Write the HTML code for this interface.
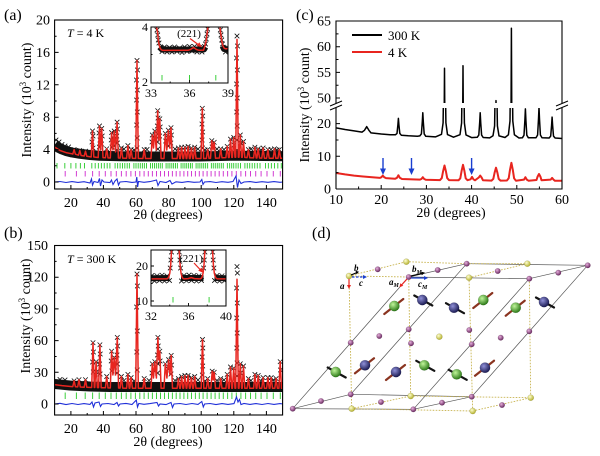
<!DOCTYPE html>
<html><head><meta charset="utf-8"><title>Diffraction figure</title>
<style>
html,body{margin:0;padding:0;background:#fff;width:600px;height:456px;overflow:hidden}
svg{display:block;font-family:"Liberation Serif","DejaVu Serif",serif}
</style></head>
<body>
<svg xmlns="http://www.w3.org/2000/svg" width="600" height="456" viewBox="0 0 600 456">
<defs>
 <clipPath id="ca"><rect x="54.6" y="20" width="228" height="169"/></clipPath>
 <clipPath id="cb"><rect x="54.6" y="245.5" width="228" height="169.5"/></clipPath>
 <clipPath id="cia"><rect x="151" y="27" width="77" height="56"/></clipPath>
 <clipPath id="cib"><rect x="151" y="250" width="75" height="56"/></clipPath>
 <clipPath id="ccl"><rect x="336" y="108" width="226" height="81"/></clipPath>
 <clipPath id="ccu"><rect x="336" y="21" width="226" height="82"/></clipPath>
 <marker id="mx" viewBox="0 0 5 5" refX="2.5" refY="2.5" markerWidth="5" markerHeight="5" markerUnits="userSpaceOnUse" overflow="visible"><path d="M0.2 0.2L4.8 4.8M4.8 0.2L0.2 4.8" stroke="#111" stroke-width="0.8" fill="none"/></marker>
 <radialGradient id="gP" cx="38%" cy="35%" r="65%"><stop offset="0" stop-color="#e6b0dc"/><stop offset="1" stop-color="#6a2860"/></radialGradient>
 <radialGradient id="gY" cx="38%" cy="35%" r="65%"><stop offset="0" stop-color="#ffffd0"/><stop offset="1" stop-color="#b4b02c"/></radialGradient>
 <radialGradient id="gG" cx="38%" cy="35%" r="65%"><stop offset="0" stop-color="#c0f59a"/><stop offset="1" stop-color="#2c7a18"/></radialGradient>
 <radialGradient id="gB" cx="38%" cy="35%" r="65%"><stop offset="0" stop-color="#9090d8"/><stop offset="1" stop-color="#1a1a52"/></radialGradient>
</defs>
<rect width="600" height="456" fill="#fff"/>

<!-- ================= Panel (a) ================= -->
<g clip-path="url(#ca)">
 <path d="M54.6 145L58 147.5L62 149.5L66 151L72 152.5L80 153.8L90 155L100 155.7L120 156.2L140 156.5L200 156.5L230 155.8L245 155.8L283 156.3" fill="none" stroke="#111" stroke-width="10" stroke-linejoin="round"/>
 <path fill="none" stroke="none" marker-start="url(#mx)" marker-mid="url(#mx)" marker-end="url(#mx)" d="M92.5 131L93 136L92 142L93 148L99.5 126L99 133L100 140L99.3 147L101.7 128.5L102.2 136L101.5 144L111.6 132.6L111.2 140L112 147L114.2 131L114.6 139L114 146L117.1 122.1L117.5 129L116.8 136L117.4 143L117 150L137 60.5L137.5 70L136.5 80L137.4 90L136.6 100L137.3 112L136.7 125L137.2 138L137 148L152.3 135L152 142L154.8 131L155.2 139L157.7 110.7L158 118L157.4 126L158 134L157.5 142L157.9 149L159.8 118.8L160.2 127L159.6 136L165.3 133.4L165.7 141L168.3 130.2L168 138L168.5 146L171 127.7L171.4 135L170.8 143L202.3 108.3L202.7 116L202 124L202.6 132L202.1 140L202.5 148L211.8 140.7L212.2 147L214.2 142.3L230.5 139.1L233.7 137.5L234 145L237 36L237.5 46L236.5 58L237.4 70L236.6 84L237.3 98L236.7 112L237.2 126L236.8 140L237 150L240.3 135L240.6 143L243.5 141.5L74.1 149.6L79.8 150.4L85.5 151.2L106.7 148.8L121.4 148L127.9 145.6L131.1 149.6L144.2 149.6L178.4 148L181.6 147.2L184.9 147.2L188.1 146.4L191.4 148L194.7 147.2L207.7 149.6L220.7 148.8L227.2 146.4L248.4 149.6L254.9 147.2L258.2 148.8L263.1 148L267.9 149.6L274.5 148.8L279.3 149.6L60 148L64 149L68 150L124 149L134 150L147 149.5L175 149L198 149L205 150L217 149L224 149.5L251 149L261 150L271 149.5L277 150L56 140L59 142L62 144.5L65 146L68.5 147"/>
 <path fill="none" stroke="#e8251f" stroke-width="1.5" stroke-linejoin="round" d="M54.6 147L60 150.5L66 152.6L72 153.8L72.8 154.1L74.1 149.6L75.4 154.2L78.5 155.2L79.8 150.4L81.1 155.5L84.2 156L85.5 151.2L86.8 156.3L91.2 157L92.5 131L93.8 157L98.2 157.5L99.5 126.1L100.6 150L101.7 128.5L103 157.6L105.4 157.8L106.7 148.8L108 157.9L110.3 158L111.6 132.6L112.9 150L114.2 131L115.5 152L117.1 122.1L118.4 158L120.1 158.1L121.4 148L122.7 158.1L126.6 158.2L127.9 145.6L129.2 158.2L129.8 158.3L131.1 149.6L132.4 158.3L135.7 158.4L137 60.5L138.3 158.4L142.9 158.5L144.2 149.6L145.5 158.5L151 158.5L152.3 135L153.5 148L154.8 131L156.3 150L157.7 110.7L158.8 140L159.8 118.8L161.1 158.5L164 158.5L165.3 133.4L166.8 150L168.3 130.2L169.6 148L171 127.7L172.3 158.5L177.1 158.5L178.4 148L179.7 158.5L180.3 158.5L181.6 147.2L182.9 158.5L183.6 158.5L184.9 147.2L186.2 158.5L186.8 158.5L188.1 146.4L189.4 158.5L190.1 158.5L191.4 148L192.7 158.5L193.4 158.5L194.7 147.2L196 158.5L201 158.5L202.3 108.3L203.6 158.5L206.4 158.4L207.7 149.6L209 158.4L210.5 158.3L211.8 140.7L213 150L214.2 142.3L215.5 158.2L219.4 158L220.7 148.8L222 157.8L225.9 157.6L227.2 146.4L228.5 157.5L229.2 157.5L230.5 139.1L231.8 157.4L232.4 157.4L233.7 137.5L235 157.3L235.7 157.3L237 39.4L238.3 157.3L239 157.3L240.3 135L241.6 157.3L242.2 157.4L243.5 141.5L244.8 157.4L247.1 157.6L248.4 149.6L249.7 157.7L253.6 157.9L254.9 147.2L256.2 158L256.9 158L258.2 148.8L259.5 158L261.8 158.1L263.1 148L264.4 158.2L266.6 158.2L267.9 149.6L269.2 158.2L273.2 158.3L274.5 148.8L275.8 158.3L278 158.3L279.3 149.6L280.6 158.3L283 158.3"/>
 <path stroke="#3ccf3c" stroke-width="1" d="M57 163v5.5M64.8 163v5.5M70.9 163v5.5M75.9 163v5.5M80.4 163v5.5M84.5 163v5.5M91.8 163v5.5M95.2 163v5.5M98.4 163v5.5M101.4 163v5.5M104.3 163v5.5M107.2 163v5.5M109.9 163v5.5M115.1 163v5.5M117.6 163v5.5M120.1 163v5.5M122.5 163v5.5M124.8 163v5.5M127.2 163v5.5M129.4 163v5.5M133.9 163v5.5M136 163v5.5M138.2 163v5.5M140.3 163v5.5M142.4 163v5.5M144.4 163v5.5M146.5 163v5.5M150.5 163v5.5M152.5 163v5.5M154.5 163v5.5M156.4 163v5.5M158.4 163v5.5M160.3 163v5.5M162.3 163v5.5M166.1 163v5.5M168 163v5.5M169.9 163v5.5M171.8 163v5.5M173.6 163v5.5M175.5 163v5.5M177.4 163v5.5M181.1 163v5.5M183 163v5.5M184.9 163v5.5M186.7 163v5.5M188.6 163v5.5M190.5 163v5.5M192.3 163v5.5M196.1 163v5.5M198 163v5.5M199.9 163v5.5M201.8 163v5.5M203.7 163v5.5M205.6 163v5.5M207.6 163v5.5M211.4 163v5.5M213.3 163v5.5M215.3 163v5.5M217.3 163v5.5M219.2 163v5.5M221.3 163v5.5M223.3 163v5.5M227.4 163v5.5M229.6 163v5.5M231.7 163v5.5M233.7 163v5.5M236 163v5.5M238.2 163v5.5M240.5 163v5.5M244.9 163v5.5M247.3 163v5.5M249.7 163v5.5M252.2 163v5.5M254.7 163v5.5M257.3 163v5.5M260 163v5.5M265.5 163v5.5M268.4 163v5.5M271.4 163v5.5M274.5 163v5.5M277.8 163v5.5M281.3 163v5.5"/>
 <path stroke="#d23cd2" stroke-width="1" d="M65.2 171v5.5M76.4 171v5.5M85.2 171v5.5M92.6 171v5.5M99.2 171v5.5M105.3 171v5.5M111 171v5.5M116.3 171v5.5M121.4 171v5.5M126.2 171v5.5M130.9 171v5.5M135.4 171v5.5M139.8 171v5.5M144.1 171v5.5M148.3 171v5.5M152.4 171v5.5M156.5 171v5.5M160.5 171v5.5M164.5 171v5.5M168.5 171v5.5M172.4 171v5.5M176.2 171v5.5M180 171v5.5M183.9 171v5.5M187.7 171v5.5M191.5 171v5.5M195.4 171v5.5M199.3 171v5.5M203.1 171v5.5M207.1 171v5.5M211.1 171v5.5M215.1 171v5.5M219.2 171v5.5M223.3 171v5.5M227.6 171v5.5M231.9 171v5.5M236.3 171v5.5M240.9 171v5.5M245.6 171v5.5M250.5 171v5.5M255.7 171v5.5M261.1 171v5.5M267 171v5.5M273.3 171v5.5M280.3 171v5.5"/>
 <path fill="none" stroke="#1f2fd8" stroke-width="1.1" d="M54.6 182L60 181.5L66 182.5L72 181.6L78 182.4L84 181.7L90 183L91.5 179L92.5 185L94 181.5L98 182.5L99.5 178.5L100.5 186L102 180L104 182L110 182.5L111.5 180L113 184.5L115 181L117 179L118.5 185L120 182L126 181.5L132 182.4L136 182L136.8 177L137.6 187L138.5 181.5L144 182.3L150 181.6L156.5 180L158 185.5L160 181.5L166 182.5L170 180.5L172 184L176 181.8L182 182.4L188 181.6L194 182.3L200 182L201.8 179.5L203 184.5L204.5 182L210 181.6L216 182.5L222 181.7L228 182.3L233 181.5L236 176L237.5 187.5L239 180L241 183.5L244 182L250 181.6L256 182.4L262 181.7L268 182.3L274 181.6L280 182.3L283 182"/>
</g>
<path fill="none" stroke="#000" stroke-width="1" d="M70.9 189v-4M103.4 189v-4M136 189v-4M168.6 189v-4M201.2 189v-4M233.8 189v-4M266.4 189v-4M87.2 189v-2M119.7 189v-2M152.3 189v-2M184.9 189v-2M217.5 189v-2M250 189v-2M54.6 182h4M54.6 149.6h4M54.6 117.2h4M54.6 84.8h4M54.6 52.4h4M54.6 165.8h2M54.6 133.4h2M54.6 101h2M54.6 68.6h2M54.6 36.2h2"/>
<rect x="54.6" y="20" width="228" height="169" fill="none" stroke="#000" stroke-width="1.1"/>
<!-- inset a -->
<rect x="151" y="27" width="77" height="56" fill="#fff"/>
<g clip-path="url(#cia)">
 <path d="M159.5 47L162 49.5L204 49.5L205.5 47M222.5 46L224 49L229 49.5" fill="none" stroke="#111" stroke-width="6" stroke-linejoin="round"/>
 <path fill="none" stroke="none" marker-start="url(#mx)" marker-mid="url(#mx)" marker-end="url(#mx)" d="M159 43L160.5 47L162 51.5L164.5 47L167 52L169.5 47.5L172 52L174.5 47L177 51.5L179.5 48L182 52.5L184.5 47L187 51.5L189.5 46.5L192 51L194.5 46.5L197 52L199.5 47.5L202 52L204.5 46.5L157 30L157.7 35L158.3 40L205.5 44L206.3 39L207 34L207.6 29L220.3 30L221 35L221.7 40L222.5 44L224 48L225.5 52L227 47.5L228.5 51"/>
 <path fill="none" stroke="#e8251f" stroke-width="1.5" stroke-linejoin="round" d="M152.5 20L155.5 20L156.5 27L157.4 31.4L158.7 42.9L160 47.9L161.3 49.8L163 50.4L188 50.3L190.5 49.5L193.6 47.5L196.5 49.5L199 50.3L203.6 50.1L204.9 46L206.2 40.4L207.5 30.3L208.4 20M219.4 20L220.3 30.3L221.6 40.4L222.9 45.8L224.2 48.2L225.5 48.8L226.8 48.7L228.2 48.3L229 48"/>
 <path stroke="#3ccf3c" stroke-width="1" d="M162 75v5.5M189.5 75v5.5M215.8 75v5.5"/>
</g>
<path fill="none" stroke="#000" stroke-width="0.9" d="M189.5 83v-3M170.2 83v-1.5M208.7 83v-1.5M151 54.5h1.5"/>
<rect x="151" y="27" width="77" height="56" fill="none" stroke="#000" stroke-width="1"/>
<path d="M190 38.5L199.5 45.5" stroke="#e8251f" stroke-width="1.2"/>
<path d="M202 47.3L196.5 45.9L199.3 42.2Z" fill="#e8251f"/>
<text x="189" y="37" font-size="11" text-anchor="middle">(221)</text>
<g font-size="12">
 <text x="148" y="31" text-anchor="end">4</text>
 <text x="148" y="86" text-anchor="end">2</text>
 <text x="151" y="97" text-anchor="middle">33</text>
 <text x="189.5" y="97" text-anchor="middle">36</text>
 <text x="228" y="97" text-anchor="middle">39</text>
</g>
<text x="67" y="37" font-size="12"><tspan font-style="italic">T</tspan> = 4 K</text>
<text x="4" y="20" font-size="16">(a)</text>
<g font-size="14" text-anchor="end">
 <text x="50" y="186.5">0</text>
 <text x="50" y="154.1">4</text>
 <text x="50" y="121.7">8</text>
 <text x="50" y="89.3">12</text>
 <text x="50" y="56.9">16</text>
 <text x="50" y="24.5">20</text>
</g>
<g font-size="14" text-anchor="middle">
 <text x="70.9" y="207">20</text>
 <text x="103.4" y="207">40</text>
 <text x="136" y="207">60</text>
 <text x="168.6" y="207">80</text>
 <text x="201.2" y="207">100</text>
 <text x="233.8" y="207">120</text>
 <text x="266.4" y="207">140</text>
 <text x="168" y="219">2θ (degrees)</text>
</g>
<text transform="translate(31,100) rotate(-90)" font-size="14" text-anchor="middle">Intensity (10<tspan font-size="9" dy="-5">3</tspan><tspan dy="5"> count)</tspan></text>

<!-- ================= Panel (b) ================= -->
<g clip-path="url(#cb)">
 <path d="M54.6 384L70 385.5L90 386.5L110 387L283 387" fill="none" stroke="#111" stroke-width="10" stroke-linejoin="round"/>
 <path fill="none" stroke="none" marker-start="url(#mx)" marker-mid="url(#mx)" marker-end="url(#mx)" d="M93 342.7L93.4 352L92.6 362L93.3 372L96.1 361.7L96.4 372L99.9 344.8L100.2 354L99.6 364L100.1 374L111.6 351.2L111.2 361L111.9 371L114.2 357.5L114.5 367L117.3 337.4L117.6 346L117 355L117.5 364L117.1 373L137 274L137.4 286L136.6 307L137.3 331L136.8 352L137.2 370L152.3 363.8L152 373L154.8 361.7L155.1 371L157.9 337.4L158.2 346L157.5 355L158.1 364L157.6 373L159.8 351.2L160.1 361L165.3 363.8L168.6 359.6L168.3 369L171.2 355.4L171.5 365L171 374L202.5 339.5L202.8 348L202.2 357L202.7 366L202.3 375L212.2 371.2L214.2 372.3L230.5 367L233.7 368.1L237 266.6L237.4 273L236.6 288L237.3 303L236.7 318L237.2 333L236.8 348L237.1 363L237 376L240.3 363.8L240.6 373L243.5 366L280.2 361.7L280.5 370L74.1 380.8L79 379.7L85.5 379.7L106.7 376.5L121.4 376.5L127.9 374.4L131.1 377.6L144.2 378.6L178.4 378.6L181.6 376.5L184.9 375.5L188.1 375.5L191.4 377.6L194.7 376.5L207.7 378.6L220.7 378.6L227.2 374.4L248.4 378.6L254.9 374.4L258.2 375.5L263.1 377.6L267.9 377.6L271.2 377.6L276.1 378.6L60 379.5L65 380L124 380.5L134 381L149 380.5L175 380.5L198 380L205 381L217 380.5L224 380L251 380.5L261 381L273 380.5"/>
 <path fill="none" stroke="#e8251f" stroke-width="1.5" stroke-linejoin="round" d="M54.6 384.6L62 385.6L72 386.6L72.8 386.6L74.1 380.8L75.4 386.7L77.7 386.9L79 379.7L80.3 387L84.2 387.2L85.5 379.7L86.8 387.3L91.7 387.5L93 342.7L94.3 387.5L94.8 387.5L96.1 361.7L97.4 387.6L98.6 387.6L99.9 344.8L101.2 387.7L105.4 387.8L106.7 376.5L108 387.9L110.3 388L111.6 351.2L112.9 375L114.2 357.5L115.6 375L117.3 337.4L118.6 388L120.1 388.1L121.4 376.5L122.7 388.1L126.6 388.2L127.9 374.4L129.2 388.2L129.8 388.2L131.1 377.6L132.4 388.2L135.7 388.3L137 274L138.3 388.3L142.9 388.3L144.2 378.6L145.5 388.3L151 388.3L152.3 363.8L153.5 378L154.8 361.7L156.4 378L157.9 337.4L158.9 360L159.8 351.2L161.1 388.3L164 388.3L165.3 363.8L166.9 378L168.6 359.6L169.9 375L171.2 355.4L172.5 388.3L177.1 388.3L178.4 378.6L179.7 388.3L180.3 388.3L181.6 376.5L182.9 388.3L183.6 388.3L184.9 375.5L186.2 388.3L186.8 388.3L188.1 375.5L189.4 388.3L190.1 388.3L191.4 377.6L192.7 388.3L193.4 388.3L194.7 376.5L196 388.3L201.2 388.3L202.5 339.5L203.8 388.3L206.4 388.3L207.7 378.6L209 388.3L210.9 388.3L212.2 371.2L213.2 380L214.2 372.3L215.5 388.3L219.4 388.3L220.7 378.6L222 388.3L225.9 388.3L227.2 374.4L228.5 388.3L229.2 388.3L230.5 367L231.8 388.3L232.4 388.3L233.7 368.1L235 388.3L235.7 388.3L237 279.3L238.3 388.3L239 388.3L240.3 363.8L241.6 388.3L242.2 388.3L243.5 366L244.8 388.3L247.1 388.3L248.4 378.6L249.7 388.3L253.6 388.3L254.9 374.4L256.2 388.3L256.9 388.3L258.2 375.5L259.5 388.3L261.8 388.3L263.1 377.6L264.4 388.3L266.6 388.3L267.9 377.6L269.2 388.3L269.9 388.3L271.2 377.6L272.5 388.3L274.8 388.3L276.1 378.6L277.4 388.3L278.9 388.3L280.2 361.7L281.5 388.3L283 388.3"/>
 <path stroke="#3ccf3c" stroke-width="1" d="M65.2 392.5v6.5M76.4 392.5v6.5M85.2 392.5v6.5M92.6 392.5v6.5M99.2 392.5v6.5M105.3 392.5v6.5M111 392.5v6.5M116.3 392.5v6.5M121.4 392.5v6.5M126.2 392.5v6.5M130.9 392.5v6.5M135.4 392.5v6.5M139.8 392.5v6.5M144.1 392.5v6.5M148.3 392.5v6.5M152.4 392.5v6.5M156.5 392.5v6.5M160.5 392.5v6.5M164.5 392.5v6.5M168.5 392.5v6.5M172.4 392.5v6.5M176.2 392.5v6.5M180 392.5v6.5M183.9 392.5v6.5M187.7 392.5v6.5M191.5 392.5v6.5M195.4 392.5v6.5M199.3 392.5v6.5M203.1 392.5v6.5M207.1 392.5v6.5M211.1 392.5v6.5M215.1 392.5v6.5M219.2 392.5v6.5M223.3 392.5v6.5M227.6 392.5v6.5M231.9 392.5v6.5M236.3 392.5v6.5M240.9 392.5v6.5M245.6 392.5v6.5M250.5 392.5v6.5M255.7 392.5v6.5M261.1 392.5v6.5M267 392.5v6.5M273.3 392.5v6.5M280.3 392.5v6.5"/>
 <path fill="none" stroke="#1f2fd8" stroke-width="1.1" d="M54.6 404L60 403.3L66 404.6L72 403.5L78 404.5L84 403.6L90 404.4L92 402L93.5 407L95 403L99 402L100.5 406.5L102 404L108 403.5L114 404.6L117 402.5L118.5 406L120 404L126 403.4L132 404.5L136.3 400L137.5 407L138.8 403.5L144 404.3L150 403.6L157 402.5L158.5 406L160 404L166 404.6L171 402.5L172.5 407.5L174 404L180 403.5L186 404.5L192 403.5L198 404.4L201.8 401.5L203.3 407L204.6 404L210 403.5L216 404.6L222 403.6L228 404.4L234 403.6L236.5 397L238 402L239.5 399.5L241 404.5L244 403.5L250 404.4L256 403.6L262 404.5L268 403.5L274 404.4L280 403.6L283 404"/>
</g>
<path fill="none" stroke="#000" stroke-width="1" d="M70.9 415v-4M103.4 415v-4M136 415v-4M168.6 415v-4M201.2 415v-4M233.8 415v-4M266.4 415v-4M87.2 415v-2M119.7 415v-2M152.3 415v-2M184.9 415v-2M217.5 415v-2M250 415v-2M54.6 404h4M54.6 372.3h4M54.6 340.6h4M54.6 308.9h4M54.6 277.2h4M54.6 388.15h2M54.6 356.45h2M54.6 324.75h2M54.6 293.05h2M54.6 261.35h2"/>
<rect x="54.6" y="245.5" width="228" height="169.5" fill="none" stroke="#000" stroke-width="1.1"/>
<!-- inset b -->
<rect x="151" y="250" width="75" height="56" fill="#fff"/>
<g clip-path="url(#cib)">
 <path d="M151 278.3L169.5 278M181 278L203.5 278M214.5 278L226 278.3" fill="none" stroke="#111" stroke-width="6"/>
 <path fill="none" stroke="none" marker-start="url(#mx)" marker-mid="url(#mx)" marker-end="url(#mx)" d="M152 275.5L154.5 281L157 275.8L159.5 280.5L162 275.2L164.5 281L167 276L169.5 280.5L181.5 281L184 275.5L186.5 280.8L189 275L191.5 280.5L194 275.5L196.5 281L199 275.8L201.5 280.5L214.5 280.5L217 275.5L219.5 281L222 275.8L224.5 280.8L170.2 268L170.9 260L171.5 252L179.3 252L179.9 260L180.6 268L203.6 268L204.3 260L204.9 252L212.6 252L213.2 260L213.9 268"/>
 <path fill="none" stroke="#e8251f" stroke-width="1.5" stroke-linejoin="round" d="M150 278.9L167 278.9L167.9 278.3L168.8 276.9L169.8 273.1L170.7 264.7L171.6 249.9L171.9 245M178.9 245L179.2 249.9L180.1 264.7L181 273.1L182 276.9L182.9 278.3L184 278.9L188 278.6L191.3 277.6L194.5 278.6L200 278.9L201.2 278.3L202.1 276.9L203.1 273.1L204 264.7L204.9 249.9L205.2 245M212.2 245L212.5 249.9L213.4 264.7L214.3 273.1L215.3 276.9L216.2 278.3L217.5 278.9L227 278.9"/>
 <path stroke="#3ccf3c" stroke-width="1" d="M173 297v5.5M209.1 297v5.5"/>
</g>
<path fill="none" stroke="#000" stroke-width="0.9" d="M188.5 306v-3M169.75 306v-1.5M207.25 306v-1.5M151 266h3M151 301h3M151 283.5h1.5"/>
<rect x="151" y="250" width="75" height="56" fill="none" stroke="#000" stroke-width="1"/>
<path d="M194 263L201 270.5" stroke="#e8251f" stroke-width="1.2"/>
<path d="M203.5 273L198.2 270.6L201.6 267.6Z" fill="#e8251f"/>
<text x="191" y="262" font-size="11" text-anchor="middle">(221)</text>
<g font-size="12">
 <text x="148" y="270" text-anchor="end">20</text>
 <text x="148" y="305" text-anchor="end">10</text>
 <text x="151" y="320" text-anchor="middle">32</text>
 <text x="188.5" y="320" text-anchor="middle">36</text>
 <text x="226" y="320" text-anchor="middle">40</text>
</g>
<text x="67" y="263" font-size="12"><tspan font-style="italic">T</tspan> = 300 K</text>
<text x="4" y="238" font-size="16">(b)</text>
<g font-size="14" text-anchor="end">
 <text x="48" y="408.5">0</text>
 <text x="48" y="376.8">30</text>
 <text x="48" y="345.1">60</text>
 <text x="48" y="313.4">90</text>
 <text x="48" y="281.7">120</text>
 <text x="48" y="250">150</text>
</g>
<g font-size="14" text-anchor="middle">
 <text x="70.9" y="433">20</text>
 <text x="103.4" y="433">40</text>
 <text x="136" y="433">60</text>
 <text x="168.6" y="433">80</text>
 <text x="201.2" y="433">100</text>
 <text x="233.8" y="433">120</text>
 <text x="266.4" y="433">140</text>
 <text x="168" y="446">2θ (degrees)</text>
</g>
<text transform="translate(30,316) rotate(-90)" font-size="14" text-anchor="middle">Intensity (10<tspan font-size="9" dy="-5">3</tspan><tspan dy="5"> count)</tspan></text>

<!-- ================= Panel (c) ================= -->
<g clip-path="url(#ccl)">
 <path fill="none" stroke="#000" stroke-width="1.5" stroke-linejoin="round" d="M336 127.9L345 129.5L354.1 130.9L362 132.1L364.5 130.3L366.7 126.6L368.9 130.3L371 132.9L381.2 134L390.2 134.7L395.4 134.8L397 133.4L397.9 124.8L398.4 118.4L398.9 124.8L399.8 133.4L401.4 135.3L408.3 135.8L417.4 136.2L419.8 135.9L421.4 133.9L422.3 121.8L422.8 112.8L423.3 121.8L424.2 133.9L425.8 136.3L435.4 136.9L441.5 134.3L443.1 122.8L444 56L444.5 0L445 56L445.9 122.8L447.5 134.6L453.5 137.2L460 134.7L461.6 123L462.5 55.3L463 0L463.5 55.3L464.4 123L466 134.9L471.6 137.6L477.2 137.3L478.8 135.1L479.7 122.3L480.2 112.8L480.7 122.3L481.6 135.1L483.2 137.5L489.7 137.9L493 135.7L494.6 125.9L495.5 69.3L496 27L496.5 69.3L497.4 125.9L499 135.9L505 137.5L508.4 134.8L510 121L510.9 41L511.4 -19L511.9 41L512.8 121L514.4 134.8L519 138L522.4 137.8L524 135.2L524.9 120.1L525.4 108.9L525.9 120.1L526.8 135.2L528.4 137.8L536 137.7L537.6 135L538.5 119.1L539 107.3L539.5 119.1L540.4 135L542 137.7L549.1 138L550.7 136.1L551.6 125.2L552.1 117.1L552.6 125.2L553.5 136.1L555.1 138L562 138.5"/>
 <path fill="none" stroke="#e8251f" stroke-width="2" stroke-linejoin="round" d="M336 173L345 174.4L354.1 175.6L363.1 176.5L372.2 177.3L380 177.9L381.4 177.2L382.8 175.6L384.2 177.2L386 178.1L395 178.8L397 177.8L398.4 175.3L399.8 177.8L402 179L420 179.6L421.4 179L422.8 177.2L424.2 179L426 179.8L440 180.1L441.8 178.1L443.1 171.2L444.5 165.5L445.9 171.2L447.2 178.1L449 180.1L458.5 180.3L460.3 178.3L461.6 170.9L463 164.8L464.4 170.9L465.7 178.3L467.5 180.2L470.6 179.3L472 176.9L473.4 179.3L475 180.3L478.8 177.5L480.2 175.6L481.6 177.5L483 180.3L491.5 180.6L493.3 178.9L494.6 172.7L496 167.7L497.4 172.7L498.7 178.9L500.5 180.6L506.9 180.5L508.7 178.3L510 169.8L511.4 162.8L512.8 169.8L514.1 178.3L515.9 180.7L524 179.6L525.4 177.2L526.8 179.6L528.5 180.7L536.5 180L537.6 176.6L539 174L540.4 176.6L541.5 180.2L550.7 179.6L552.1 177.9L553.5 179.6L555 180.8L562 180.8"/>
</g>
<g clip-path="url(#ccu)">
 <path fill="none" stroke="#000" stroke-width="1.5" stroke-linejoin="round" d="M444 146L444.5 68.2L445 146M462.5 146L463 65.7L463.5 146M495.5 146L496 100.6L496.5 146M510.9 146L511.4 28.2L511.9 146"/>
</g>
<path fill="none" stroke="#000" stroke-width="1" d="M381.2 189v-4M426.4 189v-4M471.6 189v-4M516.8 189v-4M358.6 189v-2.5M403.8 189v-2.5M449 189v-2.5M494.2 189v-2.5M539.4 189v-2.5M336 156.3h4M336 123.6h4M336 172.65h2.5M336 139.95h2.5M336 98h4M336 72.35h4M336 46.7h4M336 85.2h2.5M336 59.5h2.5M336 33.9h2.5"/>
<path d="M336 189V107.5M336 103.5V21H562V103.5M562 107.5V189H336" fill="none" stroke="#000" stroke-width="1.1"/>
<path d="M330 106L342 101M330 110L342 105M556 106L568 101M556 110L568 105" stroke="#000" stroke-width="1"/>
<g stroke="#1a3fd0" stroke-width="1.4" fill="#1a3fd0">
 <path d="M383 158V169"/><path d="M380 168.5L386 168.5L383 175Z" stroke="none"/>
 <path d="M411.5 158V169"/><path d="M408.5 168.5L414.5 168.5L411.5 175Z" stroke="none"/>
 <path d="M471.6 158V169"/><path d="M468.6 168.5L474.6 168.5L471.6 175Z" stroke="none"/>
</g>
<path d="M352 35H382" stroke="#000" stroke-width="2"/>
<path d="M352 52H382" stroke="#e8251f" stroke-width="2"/>
<text x="388" y="40" font-size="13">300 K</text>
<text x="388" y="57" font-size="13">4 K</text>
<text x="296" y="20" font-size="16">(c)</text>
<g font-size="14" text-anchor="end">
 <text x="331" y="193.5">0</text>
 <text x="331" y="160.8">10</text>
 <text x="331" y="128.1">20</text>
 <text x="331" y="102.5">50</text>
 <text x="331" y="76.9">55</text>
 <text x="331" y="51.2">60</text>
 <text x="331" y="25.5">65</text>
</g>
<g font-size="14" text-anchor="middle">
 <text x="336" y="204">10</text>
 <text x="381.2" y="204">20</text>
 <text x="426.4" y="204">30</text>
 <text x="471.6" y="204">40</text>
 <text x="516.8" y="204">50</text>
 <text x="562" y="204">60</text>
 <text x="451" y="217">2θ (degrees)</text>
</g>
<text transform="translate(309,105) rotate(-90)" font-size="14" text-anchor="middle">Intensity (10<tspan font-size="9" dy="-5">3</tspan><tspan dy="5"> count)</tspan></text>

<!-- ================= Panel (d) ================= -->
<text x="312" y="238" font-size="16">(d)</text>
<g fill="none" stroke="#555" stroke-width="0.7">
 <path d="M292.7 408.7L408.7 277M413.3 409.3L529.3 278.7M350.7 394.3L466.7 263.7M471.7 396.7L587.7 265.3"/>
 <path d="M292.7 408.7L413.3 409.3M350.7 394.3L471.7 396.7M408.7 277L529.3 278.7M466.7 263.7L587.7 265.3"/>
 <path d="M292.7 408.7L350.7 394.3M413.3 409.3L471.7 396.7M408.7 277L466.7 263.7M529.3 278.7L587.7 265.3"/>
</g>
<g fill="none" stroke="#c8b450" stroke-width="0.9" stroke-dasharray="1.6 1.4">
 <path d="M349 276L351.7 408.7M408.7 277L410.7 396M469 277.7L472.7 411M529.3 278.7L530.7 397.7"/>
 <path d="M349 276L408.7 277M406.3 261.7L466.7 263.7L527.3 263.7"/>
 <path d="M351.7 408.7L472.7 411M410.7 396L530.7 397.7"/>
 <path d="M349 276L406.3 261.7M469 277.7L527.3 263.7M351.7 408.7L410.7 396M472.7 411L530.7 397.7"/>
</g>
<g stroke-width="2.2" stroke-linecap="round" fill="none">
 <path stroke="#8a3420" d="M384.3 314L403.3 299M473.3 308L492.3 293M505.7 315.7L524.7 300.7M355 373.3L374 358.3M386 380L405 365M475 375.7L494 360.7"/>
 <path stroke="#141414" d="M414.3 295.5L432.3 305.5M446 303.2L464 313.2M536 297.5L554 307.5M327.7 367.5L345.7 377.5M416.3 360.8L434.3 370.8M448.7 369.8L466.7 379.8"/>
</g>
<g fill="url(#gP)" stroke="rgba(0,0,0,0.25)" stroke-width="0.3">
 <circle cx="466.7" cy="263.7" r="2.8"/><circle cx="587.7" cy="265.3" r="2.8"/><circle cx="377.7" cy="269.3" r="2.8"/><circle cx="437.7" cy="270" r="2.8"/><circle cx="497.7" cy="271" r="2.8"/><circle cx="558.3" cy="272.7" r="2.8"/><circle cx="408.7" cy="277" r="2.8"/><circle cx="529.3" cy="278.7" r="2.8"/>
 <circle cx="350.7" cy="342.7" r="2.8"/><circle cx="379.3" cy="336" r="2.8"/><circle cx="408.7" cy="329.3" r="2.8"/><circle cx="411" cy="343.3" r="2.8"/><circle cx="469.3" cy="330" r="2.8"/><circle cx="471.7" cy="344.3" r="2.8"/><circle cx="500.7" cy="337.7" r="2.8"/><circle cx="529.3" cy="331.3" r="2.8"/>
 <circle cx="292.7" cy="408.7" r="2.8"/><circle cx="321" cy="401" r="2.8"/><circle cx="350.7" cy="394.3" r="2.8"/><circle cx="381" cy="402" r="2.8"/><circle cx="413.3" cy="409.3" r="2.8"/><circle cx="442" cy="402.7" r="2.8"/><circle cx="471.7" cy="396.7" r="2.8"/><circle cx="502" cy="405" r="2.8"/>
</g>
<g fill="url(#gY)" stroke="rgba(0,0,0,0.25)" stroke-width="0.3">
 <circle cx="406.3" cy="261.7" r="3.1"/><circle cx="527.3" cy="263.7" r="3.1"/><circle cx="349" cy="276" r="3.1"/><circle cx="469" cy="277.7" r="3.1"/><circle cx="439.3" cy="336.7" r="3.1"/><circle cx="351.7" cy="408.7" r="3.1"/><circle cx="410.7" cy="396" r="3.1"/><circle cx="472.7" cy="411" r="3.1"/><circle cx="530.7" cy="397.7" r="3.1"/>
</g>
<g fill="url(#gG)" stroke="rgba(0,0,0,0.25)" stroke-width="0.3">
 <circle cx="394.3" cy="306" r="5.2"/><circle cx="483.3" cy="300" r="5.2"/><circle cx="515.7" cy="307.7" r="5.2"/><circle cx="335.7" cy="372" r="5.2"/><circle cx="424.3" cy="365.3" r="5.2"/><circle cx="456.7" cy="374.3" r="5.2"/>
</g>
<g fill="url(#gB)" stroke="rgba(0,0,0,0.25)" stroke-width="0.3">
 <circle cx="422.3" cy="300" r="5.2"/><circle cx="454" cy="307.7" r="5.2"/><circle cx="544" cy="302" r="5.2"/><circle cx="365" cy="365.3" r="5.2"/><circle cx="396" cy="372" r="5.2"/><circle cx="485" cy="367.7" r="5.2"/>
</g>
<!-- axis arrows -->
<g stroke-width="1.2" fill="none">
 <path d="M351 275L357 272.6" stroke="#000"/>
 <path d="M352 277H364" stroke="#1a3fd0" stroke-dasharray="2.5 1.5"/>
 <path d="M349 279V286" stroke="#e8251f"/>
 <path d="M411 276L422 273.4" stroke="#000"/>
 <path d="M411 278H425" stroke="#1a3fd0"/>
 <path d="M407 279L401.5 285" stroke="#e8251f"/>
</g>
<g stroke="none">
 <path d="M359 271.8L355.5 270.8L356.6 274.3Z" fill="#000"/>
 <path d="M367 277L363 275L363 279Z" fill="#1a3fd0"/>
 <path d="M349 289L347 285L351 285Z" fill="#e8251f"/>
 <path d="M425 272.6L421 271.6L421.8 275.3Z" fill="#000"/>
 <path d="M428 278L424 276L424 280Z" fill="#1a3fd0"/>
 <path d="M399.5 287.3L400.3 283.2L403.3 285.8Z" fill="#e8251f"/>
</g>
<g font-size="9" font-style="italic" font-weight="bold">
 <text x="354" y="271">b</text>
 <text x="359" y="286">c</text>
 <text x="340" y="289">a</text>
 <text x="412" y="272">b<tspan font-size="6" dy="2">M</tspan></text>
 <text x="418" y="287">c<tspan font-size="6" dy="2">M</tspan></text>
 <text x="389" y="285">a<tspan font-size="6" dy="2">M</tspan></text>
</g>
</svg>
</body></html>
